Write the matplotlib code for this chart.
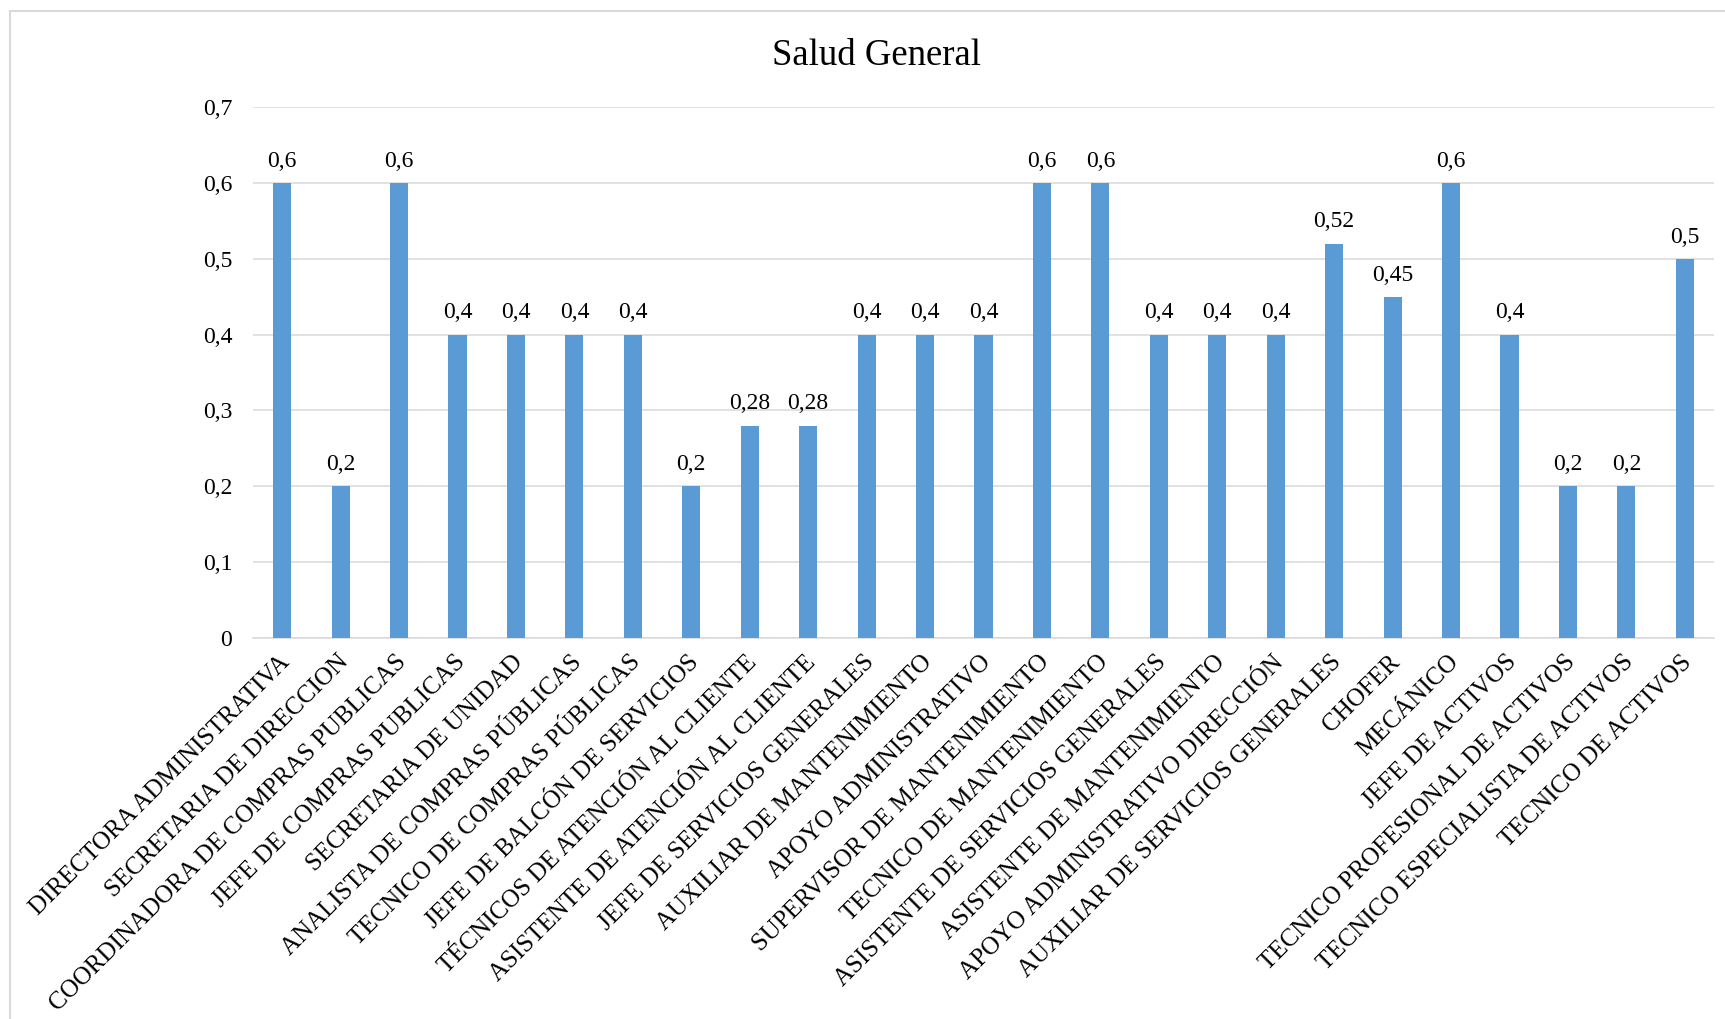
import matplotlib
matplotlib.use("Agg")
import matplotlib.pyplot as plt
from matplotlib.ticker import FuncFormatter
from matplotlib.lines import Line2D
from matplotlib.transforms import ScaledTranslation

# datos por cargo
cargos = [
    "DIRECTORA ADMINISTRATIVA",
    "SECRETARIA DE DIRECCION",
    "COORDINADORA DE COMPRAS PUBLICAS",
    "JEFE DE COMPRAS PUBLICAS",
    "SECRETARIA DE UNIDAD",
    "ANALISTA DE COMPRAS PÚBLICAS",
    "TECNICO DE COMPRAS PÚBLICAS",
    "JEFE DE BALCÓN DE SERVICIOS",
    "TÉCNICOS DE ATENCIÓN AL CLIENTE",
    "ASISTENTE DE ATENCIÓN AL CLIENTE",
    "JEFE DE SERVICIOS GENERALES",
    "AUXILIAR DE MANTENIMIENTO",
    "APOYO ADMINISTRATIVO",
    "SUPERVISOR DE MANTENIMIENTO",
    "TECNICO DE MANTENIMIENTO",
    "ASISTENTE DE SERVICIOS GENERALES",
    "ASISTENTE DE MANTENIMIENTO",
    "APOYO ADMINISTRATIVO DIRECCIÓN",
    "AUXILIAR DE SERVICIOS GENERALES",
    "CHOFER",
    "MECÁNICO",
    "JEFE DE ACTIVOS",
    "TECNICO PROFESIONAL DE ACTIVOS",
    "TECNICO ESPECIALISTA DE ACTIVOS",
    "TECNICO DE ACTIVOS",
]
salud = [0.6, 0.2, 0.6, 0.4, 0.4, 0.4, 0.4, 0.2, 0.28, 0.28,
         0.4, 0.4, 0.4, 0.6, 0.6, 0.4, 0.4, 0.4, 0.52, 0.45,
         0.6, 0.4, 0.2, 0.2, 0.5]
yticks = [0, 0.1, 0.2, 0.3, 0.4, 0.5, 0.6, 0.7]

plt.rcParams['font.family'] = ['Liberation Serif', 'DejaVu Serif']

W, H = 1725, 1019
fig = plt.figure(figsize=(W / 100, H / 100), dpi=100)
ax = fig.add_axes([253 / W, 1 - 638 / H, (1714 - 253) / W, (638 - 107) / H])

gris = "#D9D9D9"
azul = "#5B9BD5"

x = list(range(len(cargos)))
ax.bar(x, salud, width=0.31, color=azul, zorder=3)

ax.set_xlim(-0.5, len(cargos) - 0.5)
ax.set_ylim(0, 0.7)
ax.set_yticks(yticks)
ax.yaxis.set_major_formatter(FuncFormatter(lambda v, p: ("%g" % round(v, 2)).replace(".", ",")))
ax.grid(axis="y", color=gris, linewidth=1.1, zorder=0)
ax.set_axisbelow(True)
for s in ["top", "right", "left"]:
    ax.spines[s].set_visible(False)
ax.spines["bottom"].set_color(gris)
ax.spines["bottom"].set_linewidth(1.1)

ax.tick_params(axis="y", length=0, pad=15, labelsize=17)
ax.tick_params(axis="x", length=0, pad=15)
ax.set_xticks(x)
ax.set_xticklabels(cargos, rotation=45, ha="right", va="center",
                   rotation_mode="anchor", fontsize=18)
# correr un poco las etiquetas a la derecha
desp = ScaledTranslation(4 / 100, 0, fig.dpi_scale_trans)
for lbl in ax.get_xticklabels():
    lbl.set_transform(lbl.get_transform() + desp)

# etiquetas de valor
for xi, v in zip(x, salud):
    ax.annotate(("%g" % v).replace(".", ","), (xi, v), xytext=(0, 8),
                textcoords="offset points", ha="center", va="bottom", fontsize=17)

fig.text(877 / W, 1 - 56 / H, "Salud General", ha="center", va="center", fontsize=26.5)

# marco del gráfico
fig.add_artist(Line2D([10 / W, 10 / W], [0, 1 - 11 / H], transform=fig.transFigure,
                      color=gris, linewidth=1.5))
fig.add_artist(Line2D([10 / W, 1], [1 - 11 / H, 1 - 11 / H], transform=fig.transFigure,
                      color=gris, linewidth=1.5))

fig.savefig("out.png", dpi=100)
